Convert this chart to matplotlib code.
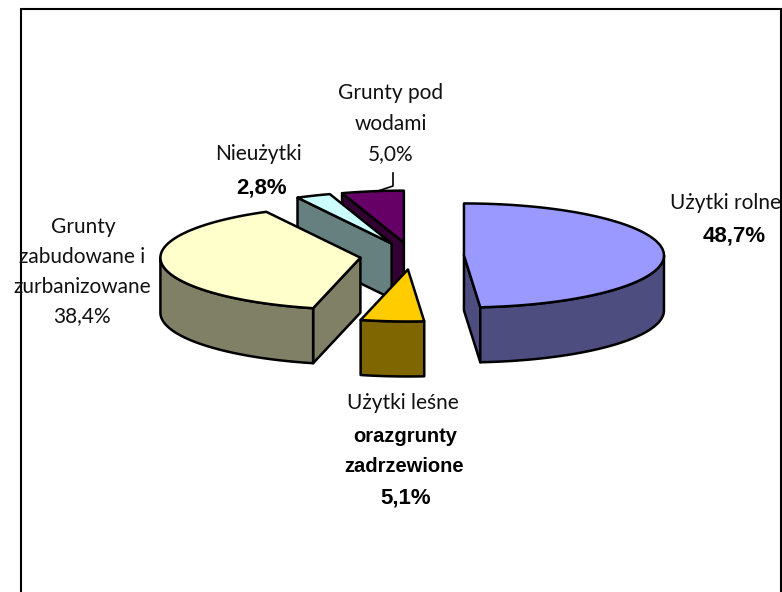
import numpy as np
import matplotlib
matplotlib.use('Agg')
import matplotlib.pyplot as plt
from matplotlib.patches import Polygon

categories = ['Użytki rolne', 'Użytki leśne oraz grunty zadrzewione',
              'Grunty zabudowane i zurbanizowane', 'Nieużytki', 'Grunty pod wodami']
values = [48.7, 5.1, 38.4, 2.8, 5.0]
top_colors = ['#9999FF', '#FFCC00', '#FFFFCC', '#CCFFFF', '#660066']
side_colors = ['#4D4D80', '#806600', '#808066', '#668080', '#330033']
draw_order = [4, 3, 2, 0, 1]  # back to front

CX, CY = 412, 256
RX, RY = 200, 52
DEPTH = 55
EXPLODE = 52

fig = plt.figure(figsize=(7.82, 5.92), dpi=100)
ax = fig.add_axes([0, 0, 1, 1])
ax.set_xlim(0, 782)
ax.set_ylim(592, 0)
ax.axis('off')


def point(cx, cy, angle):
    # angle in degrees, clockwise from 12 o'clock
    a = np.radians(angle)
    return cx + RX * np.sin(a), cy - RY * np.cos(a)


def face(pts, color, z):
    ax.add_patch(Polygon(pts, closed=True, facecolor=color, edgecolor='black',
                         lw=1.8, joinstyle='round', zorder=z))


def radial_wall(cx, cy, angle, color, z):
    x, y = point(cx, cy, angle)
    face([(cx, cy), (x, y), (x, y + DEPTH), (cx, cy + DEPTH)], color, z)


edges = np.cumsum([0] + values) * 3.6
for n, i in enumerate(draw_order):
    start, end = edges[i], edges[i + 1]
    mid = np.radians((start + end) / 2)
    cx = CX + EXPLODE * np.sin(mid)
    cy = CY - EXPLODE * RY / RX * np.cos(mid)
    z = 2 + n * 5

    # cut faces, only the ones turned to the viewer
    if np.sin(np.radians(start)) < -1e-6:
        radial_wall(cx, cy, start, side_colors[i], z)
    if np.sin(np.radians(end)) > 1e-6:
        radial_wall(cx, cy, end, side_colors[i], z)

    # outer wall on the front half
    a0, a1 = max(start, 90), min(end, 270)
    if a1 > a0:
        xs, ys = point(cx, cy, np.linspace(a0, a1, 120))
        pts = list(zip(xs, ys)) + list(zip(xs[::-1], ys[::-1] + DEPTH))
        face(pts, side_colors[i], z + 1)

    xs, ys = point(cx, cy, np.linspace(start, end, 240))
    face([(cx, cy)] + list(zip(xs, ys)), top_colors[i], z + 2)

# frame of the chart area, runs off the bottom
ax.plot([21, 21, 781, 781], [592, 9, 9, 592], color='black', lw=1.5, zorder=1, solid_joinstyle='miter')

# leader line
ax.plot([393, 393, 375], [173, 186, 192], color='black', lw=1.2, zorder=40)

plain = dict(family=['Lato', 'DejaVu Sans'], fontsize=15, color='#111111', ha='center', va='center', zorder=50)
bold = dict(family=['Liberation Sans'], fontweight='bold', color='black', ha='center', va='center', zorder=50)

ax.text(391, 93, 'Grunty pod', **plain)
ax.text(391, 124, 'wodami', **plain)
ax.text(391, 154, '5,0%', **plain)
ax.text(258, 154, 'Nieużytki', **plain)
ax.text(262, 188, '2,8%', fontsize=16, **bold)
ax.text(83, 227, 'Grunty', **plain)
ax.text(82, 257, 'zabudowane i', **plain)
ax.text(82, 287, 'zurbanizowane', **plain)
ax.text(82, 316, '38,4%', **plain)
ax.text(726, 203, 'Użytki rolne', **plain)
ax.text(734, 236, '48,7%', fontsize=16, **bold)
ax.text(403, 403, 'Użytki leśne', **plain)
ax.text(405, 437, 'orazgrunty', fontsize=14.5, **bold)
ax.text(404, 467, 'zadrzewione', fontsize=14.5, **bold)
ax.text(406, 498, '5,1%', fontsize=16, **bold)

fig.savefig('out.png', dpi=100)
